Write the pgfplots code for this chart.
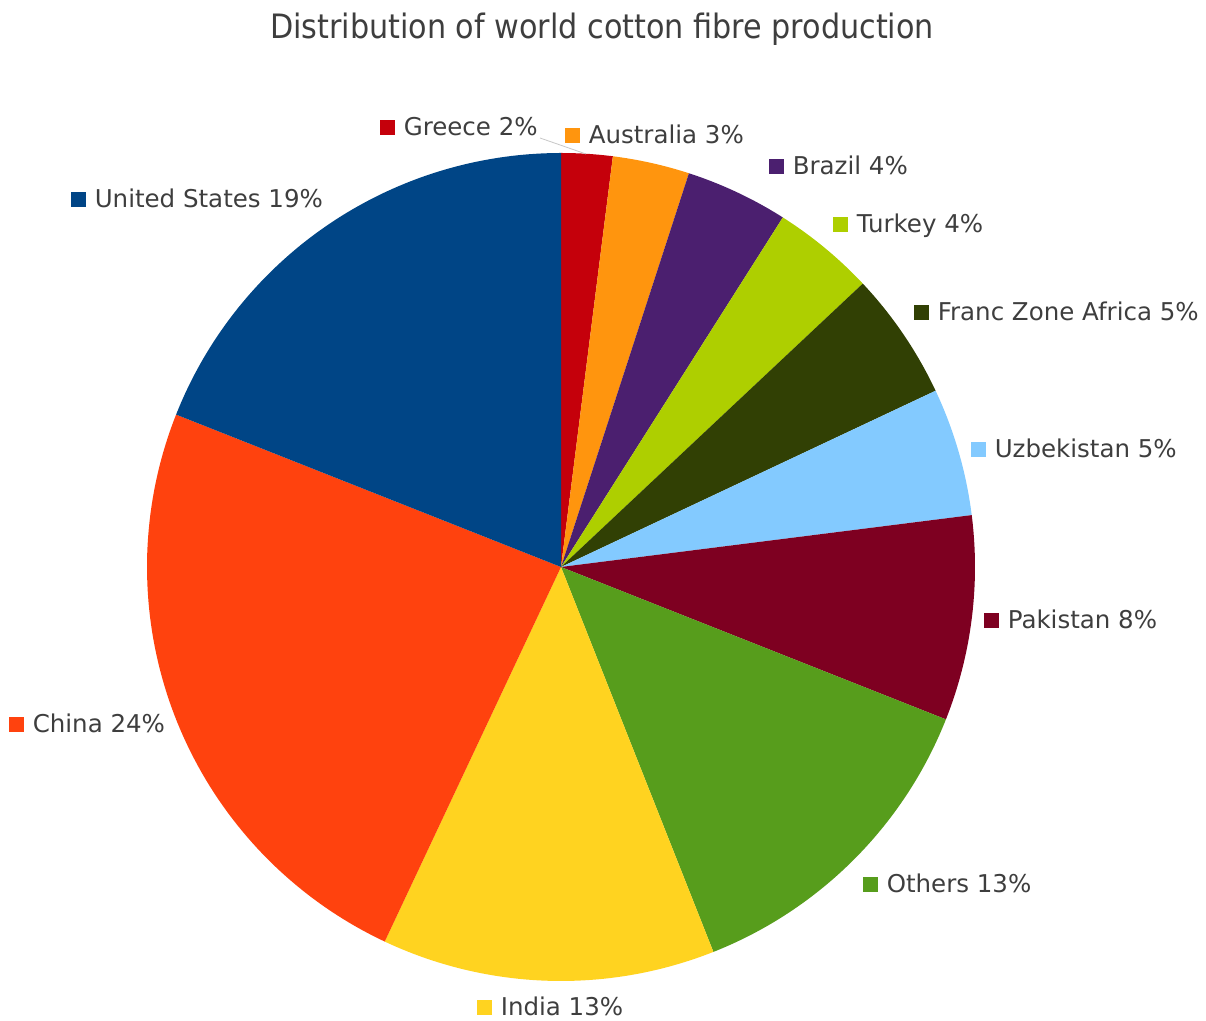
\documentclass[border=0pt]{standalone}
\usepackage{pgfplots}
\pgfplotsset{compat=1.18}
\usepackage{fontspec}
\setmainfont{DejaVu Sans}
\newfontfamily\titlefont{DejaVu Sans Condensed}
\definecolor{cUS}{HTML}{004586}
\definecolor{cChina}{HTML}{FF420E}
\definecolor{cIndia}{HTML}{FFD320}
\definecolor{cOthers}{HTML}{579D1C}
\definecolor{cPak}{HTML}{7E0021}
\definecolor{cUzb}{HTML}{83CAFF}
\definecolor{cFranc}{HTML}{314004}
\definecolor{cTurkey}{HTML}{AECF00}
\definecolor{cBrazil}{HTML}{4B1F6F}
\definecolor{cAus}{HTML}{FF950E}
\definecolor{cGreece}{HTML}{C5000B}
\definecolor{textgray}{RGB}{62,62,62}
% slice: colour, cumulative start %, cumulative end % (clockwise from 12 o'clock)
\newcommand{\pieslice}[3]{%
  \addplot[fill=#1, draw=none, domain={90-3.6*#3}:{90-3.6*#2}, samples=80, variable=\t]
    ({561+414*cos(t)},{454+414*sin(t)}) -- (axis cs:561,454) -- cycle;
}
\newcommand{\lab}[4]{% x, baseline y (pixel, from top), colour, text
  \node[anchor=base west, inner sep=0pt, text=textgray, font=\fontsize{12.25}{14}\selectfont]
    at (axis cs:#1,{1021-#2}) {\textcolor{#3}{\raisebox{0.5pt}{\rule{7.5pt}{7.5pt}}}\hspace{4.2pt}#4};
}
\begin{document}
\begin{tikzpicture}
\begin{axis}[
  x=0.5pt, y=0.5pt,
  xmin=0, xmax=1206, ymin=0, ymax=1021,
  hide axis, clip=false,
]
% shares in percent: Greece 2, Australia 3, Brazil 4, Turkey 4, Franc Zone Africa 5,
% Uzbekistan 5, Pakistan 8, Others 13, India 13, China 24, United States 19
\pieslice{cGreece}{0}{2}
\pieslice{cAus}{2}{5}
\pieslice{cBrazil}{5}{9}
\pieslice{cTurkey}{9}{13}
\pieslice{cFranc}{13}{18}
\pieslice{cUzb}{18}{23}
\pieslice{cPak}{23}{31}
\pieslice{cOthers}{31}{44}
\pieslice{cIndia}{44}{57}
\pieslice{cChina}{57}{81}
\pieslice{cUS}{81}{100}
\draw[black!22, line width=0.4pt] (axis cs:540,{1021-138}) -- (axis cs:586,{1021-154});
\lab{380}{136}{cGreece}{Greece 2\%}
\lab{565}{144}{cAus}{Australia 3\%}
\lab{769}{175}{cBrazil}{Brazil 4\%}
\lab{833}{233}{cTurkey}{Turkey 4\%}
\lab{914}{321}{cFranc}{Franc Zone Africa 5\%}
\lab{971}{458}{cUzb}{Uzbekistan 5\%}
\lab{984}{629}{cPak}{Pakistan 8\%}
\lab{863}{893}{cOthers}{Others 13\%}
\lab{477}{1016}{cIndia}{India 13\%}
\lab{9}{733}{cChina}{China 24\%}
\lab{71}{208}{cUS}{United States 19\%}
\node[anchor=base, inner sep=0pt, text=textgray, font=\titlefont\fontsize{16.8}{20}\selectfont]
  at (axis cs:602,{1021-39}) {Distribution of world cotton fibre production};
\end{axis}
\pgfresetboundingbox
\path (current axis.south west) rectangle (current axis.north east);
\end{tikzpicture}
\end{document}
